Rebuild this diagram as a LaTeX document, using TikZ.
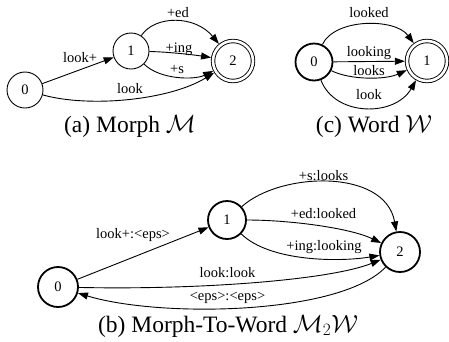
\documentclass[tikz,border=0pt]{standalone}
\usepackage{fontspec}
\setmainfont{Liberation Serif}
\usetikzlibrary{arrows.meta}
\begin{document}
\begin{tikzpicture}[x=1pt,y=-1pt,
  state/.style={circle,draw,line width=0.9pt,minimum size=36pt,inner sep=0pt,
    font=\fontsize{14.5}{17}\selectfont},
  heavy/.style={line width=1.8pt},
  final/.style={double,double distance=2.6pt,line width=0.9pt,minimum size=40pt,outer sep=2.2pt},
  edge/.style={line width=0.9pt,-{Triangle[length=10pt,width=7pt]}},
  lab/.style={font=\fontsize{14.5}{17}\selectfont,inner sep=0pt,anchor=base},
  captext/.style={font=\fontsize{23.5}{28}\selectfont,inner sep=0pt,anchor=base}]
\useasboundingbox (0,0) rectangle (449,341);

% (a) morph acceptor
\node[state] (a0) at (25,90) {0};
\node[state] (a1) at (131,51) {1};
\node[state,final] (a2) at (233,61) {2};
\draw[edge] (a0) -- (a1);
\draw[edge] (a1) .. controls (155,15) and (195,15) .. (a2);
\draw[edge] (a1) .. controls (170,52) and (195,55) .. (a2);
\draw[edge] (a1) .. controls (160,80) and (195,80) .. (a2);
\draw[edge] (a0) .. controls (90,108) and (170,100) .. (a2);
\node[lab] (la1) at (80,62) {look+};
\node[lab] (la2) at (178,17) {+ed};
\node[lab] (la3) at (179,52) {+ing};
\node[lab] (la4) at (177,73) {+s};
\node[lab] (la5) at (130,93) {look};
\node[captext] (capa) at (130,132) {(a) Morph $\mathcal{M}$};

% (c) word acceptor
\node[state,heavy,minimum size=37pt] (c0) at (314,62) {0};
\node[state,final] (c1) at (427,61) {1};
\draw[edge] (c0) .. controls (335,18) and (395,18) .. (c1);
\draw[edge] (c0) -- (c1);
\draw[edge] (c0) .. controls (350,80) and (385,80) .. (c1);
\draw[edge] (c0) .. controls (335,117) and (395,117) .. (c1);
\node[lab] (lc1) at (369,17) {looked};
\node[lab] (lc2) at (369,56) {looking};
\node[lab] (lc3) at (369,75) {looks};
\node[lab] (lc4) at (369,99) {look};
\node[captext] (capc) at (374,132) {(c) Word $\mathcal{W}$};

% (b) morph-to-word transducer
\node[state,heavy,minimum size=40pt] (b0) at (58,287) {0};
\node[state,heavy,minimum size=38pt] (b1) at (227,220) {1};
\node[state,heavy,minimum size=40pt] (b2) at (400,252) {2};
\draw[edge] (b0) -- (b1);
\draw[edge] (b1) .. controls (280,172) and (385,168) .. (b2);
\draw[edge] (b1) .. controls (290,220) and (350,228) .. (b2);
\draw[edge] (b1) .. controls (270,262) and (340,262) .. (b2);
\draw[edge] (b0) .. controls (200,290) and (330,280) .. (b2);
\draw[edge] (b2) .. controls (340,315) and (160,318) .. (b0);
\node[lab] (lb1) at (133,238) {look+:<eps>};
\node[lab] (lb2) at (323.5,180) {+s:looks};
\node[lab] (lb3) at (323.5,218) {+ed:looked};
\node[lab] (lb4) at (324,250) {+ing:looking};
\node[lab] (lb5) at (227.5,277) {look:look};
\node[lab] (lb6) at (227.5,300) {<eps>:<eps>};
\node[captext] (capb) at (228,332) {(b) Morph-To-Word $\mathcal{M}_2\mathcal{W}$};
\end{tikzpicture}
\end{document}
